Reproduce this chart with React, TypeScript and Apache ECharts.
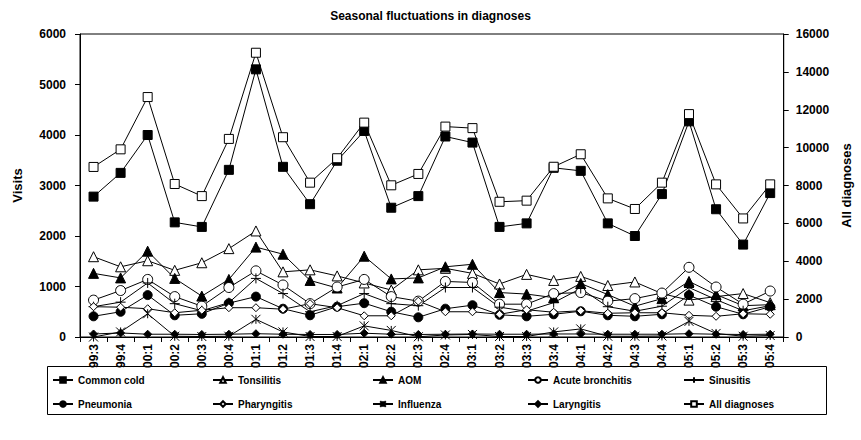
import React, { useEffect, useRef } from "react";
import * as echarts from "echarts";

const categories = ["99:3","99:4","00:1","00:2","00:3","00:4","01:1","01:2","01:3","01:4","02:1","02:2","02:3","02:4","03:1","03:2","03:3","03:4","04:1","04:2","04:3","04:4","05:1","05:2","05:3","05:4"];

const commonCold = [2780, 3250, 4000, 2270, 2180, 3310, 5300, 3370, 2630, 3490, 4080, 2560, 2790, 3970, 3850, 2180, 2250, 3350, 3290, 2250, 2000, 2830, 4270, 2530, 1830, 2850];
const tonsilitis = [1590, 1390, 1510, 1320, 1470, 1750, 2100, 1290, 1330, 1210, 1070, 930, 1330, 1360, 1260, 1050, 1240, 1120, 1200, 1020, 1090, 860, 730, 800, 860, 680];
const aom = [1260, 1170, 1700, 1160, 810, 1140, 1780, 1640, 1120, 970, 1600, 1150, 1170, 1390, 1440, 880, 850, 780, 1060, 840, 610, 760, 1100, 840, 620, 640];
const acuteBronchitis = [730, 920, 1140, 800, 610, 980, 1310, 1030, 660, 990, 1140, 800, 710, 1100, 1080, 650, 650, 860, 880, 710, 760, 870, 1380, 990, 650, 910];
const sinusitis = [600, 690, 1070, 660, 520, 680, 1160, 860, 500, 620, 860, 660, 620, 980, 980, 590, 510, 680, 960, 600, 510, 610, 980, 740, 520, 620];
const pneumonia = [410, 500, 830, 430, 460, 670, 800, 560, 430, 600, 670, 500, 390, 560, 630, 440, 410, 450, 510, 430, 410, 450, 830, 600, 450, 600];
const pharyngitis = [600, 590, 560, 480, 530, 580, 580, 550, 660, 580, 420, 420, 710, 500, 500, 450, 540, 490, 520, 470, 480, 480, 430, 410, 460, 450];
const influenza = [0, 100, 460, 15, 10, 15, 350, 100, 10, 10, 220, 130, 5, 40, 50, 10, 10, 100, 160, 15, 15, 20, 310, 70, 15, 30];
const laryngitis = [60, 80, 55, 55, 50, 55, 65, 55, 50, 50, 75, 55, 50, 55, 60, 55, 55, 60, 60, 55, 55, 55, 65, 55, 50, 55];
const allDiagnoses = [8980, 9910, 12670, 8080, 7440, 10460, 15010, 10550, 8150, 9440, 11320, 8010, 8610, 11110, 11030, 7140, 7200, 8990, 9650, 7320, 6760, 8150, 11770, 8060, 6260, 8060];

const visitsTicks = { min: 0, max: 6000, interval: 1000 };
const allTicks = { min: 0, max: 16000, interval: 2000 };

const FONT = "'Liberation Sans', Arial, Helvetica, sans-serif";
const PLUS = "path://M5,0 L5,10 M0,5 L10,5";
const STAR = "path://M0,0 L10,10 M10,0 L0,10 M5,0 L5,10";

export default function App() {
  const ref = useRef<HTMLDivElement>(null);
  useEffect(() => {
    const chart = echarts.init(ref.current!, null, { renderer: "svg" });
    const mk = (name: string, data: number[], symbol: string, size: number, filled: boolean, yAxisIndex = 0) => ({
      name,
      type: "line",
      data,
      yAxisIndex,
      symbol,
      symbolSize: size,
      showAllSymbol: true,
      lineStyle: { color: "#000", width: 1 },
      itemStyle: { color: filled ? "#000" : "#fff", borderColor: "#000", borderWidth: 1 },
      emphasis: { disabled: true },
    });
    const series = [
      mk("Common cold", commonCold, "rect", 9, true),
      mk("Tonsilitis", tonsilitis, "triangle", 10, false),
      mk("AOM", aom, "triangle", 10, true),
      mk("Acute bronchitis", acuteBronchitis, "circle", 10, false),
      mk("Sinusitis", sinusitis, PLUS, 10, true),
      mk("Pneumonia", pneumonia, "circle", 9, true),
      mk("Pharyngitis", pharyngitis, "diamond", 8, false),
      mk("Influenza", influenza, STAR, 9, true),
      mk("Laryngitis", laryngitis, "diamond", 8, true),
      mk("All diagnoses", allDiagnoses, "rect", 9, false, 1),
    ];
    const names = series.map((s) => s.name);
    const colX = [52, 212, 372, 527, 683];
    const rowY = [375, 399];
    const legends = names.map((n, i) => ({
      data: [n],
      left: colX[i % 5],
      top: rowY[Math.floor(i / 5)],
      itemWidth: 20,
      itemHeight: 7,
      itemGap: 0,
      padding: 0,
      selectedMode: false,
      textStyle: { fontFamily: FONT, fontSize: 10, fontWeight: "bold", color: "#000" },
    }));
    const axisLabel = { fontFamily: FONT, fontSize: 12, fontWeight: "bold", color: "#000", formatter: (v: any) => String(v) };
    const option = {
      animation: false,
      backgroundColor: "#fff",
      title: {
        text: "Seasonal fluctuations in diagnoses",
        left: "center",
        top: 5,
        textStyle: { fontFamily: FONT, fontSize: 12, fontWeight: "bold", color: "#000" },
      },
      grid: { left: 80, right: 77, top: 34, bottom: 103, show: true, borderColor: "#000", borderWidth: 1, backgroundColor: "transparent" },
      legend: legends,
      xAxis: {
        type: "category",
        data: categories,
        boundaryGap: true,
        axisLine: { lineStyle: { color: "#000", width: 1 } },
        axisTick: { show: true, length: 5, lineStyle: { color: "#000" } },
        axisLabel: { fontFamily: FONT, fontSize: 12, fontWeight: "bold", color: "#000", rotate: 90, margin: 7, interval: 0 },
      },
      yAxis: [
        {
          type: "value",
          ...visitsTicks,
          name: "Visits",
          nameLocation: "middle",
          nameGap: 56,
          nameTextStyle: { fontFamily: FONT, fontSize: 13, fontWeight: "bold", color: "#000" },
          axisLine: { show: true, lineStyle: { color: "#000", width: 1 } },
          axisTick: { show: true, length: 5, lineStyle: { color: "#000" } },
          axisLabel: { ...axisLabel, margin: 14 },
          splitLine: { show: false },
        },
        {
          type: "value",
          ...allTicks,
          name: "All diagnoses",
          nameLocation: "middle",
          nameGap: 55,
          nameTextStyle: { fontFamily: FONT, fontSize: 13, fontWeight: "bold", color: "#000" },
          position: "right",
          axisLine: { show: true, lineStyle: { color: "#000", width: 1 } },
          axisTick: { show: true, length: 5, lineStyle: { color: "#000" } },
          axisLabel: { ...axisLabel, margin: 12 },
          splitLine: { show: false },
        },
      ],
      graphic: [
        {
          type: "rect",
          shape: { x: 47.5, y: 366.5, width: 779, height: 48 },
          style: { fill: "none", stroke: "#000", lineWidth: 1 },
          z: -1,
        },
      ],
      series,
    };
    chart.setOption(option as any);
    return () => chart.dispose();
  }, []);
  return <div ref={ref} style={{ position: "fixed", left: 0, top: 0, width: 861, height: 440 }} />;
}
